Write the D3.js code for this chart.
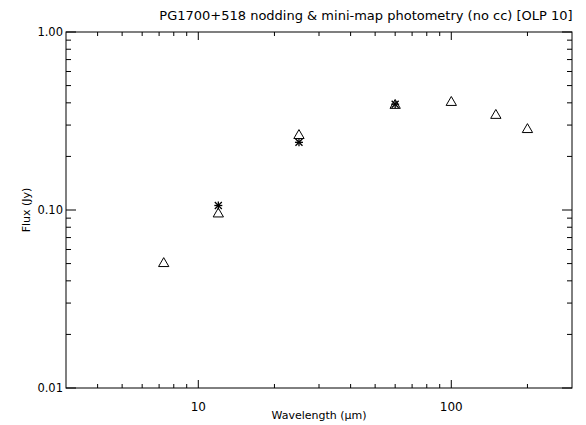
<!DOCTYPE html>
<html lang="en">
<head>
<meta charset="utf-8">
<title>PG1700+518</title>
<script src="https://d3js.org/d3.v7.min.js"></script>
<style>
body { margin: 0; background: #fff; }
text { font-family: "DejaVu Sans", sans-serif; fill: #000; }
</style>
</head>
<body>
<script>
/////////////////// Data //////////////
var triWave = [7.3, 12, 25, 60, 100, 150, 200];
var triFlux = [0.050, 0.095, 0.262, 0.387, 0.402, 0.340, 0.283];
var starWave = [12, 25, 60];
var starFlux = [0.106, 0.240, 0.393];
var xTicks = [10, 100];
var yTicks = [0.01, 0.1, 1];
var yTickLabels = ["0.01", "0.10", "1.00"];

/////////////////// Var //////////////
var width = 586, height = 425;
var mLeft = 66, mRight = 572, mTop = 32, mBottom = 388;

var svg = d3.select("body").append("svg")
  .attr("width", width).attr("height", height);

var x = d3.scaleLog().domain([3, 300]).range([mLeft, mRight]);
var y = d3.scaleLog().domain([0.01, 1]).range([mBottom, mTop]);

// minor ticks
var xMinor = [], yMinor = [];
[1, 10, 100].forEach(function(d) {
  for (var k = 2; k <= 9; k++) {
    var v = d * k;
    if (v > 3 && v < 300) xMinor.push(v);
  }
});
[0.01, 0.1].forEach(function(d) {
  for (var k = 2; k <= 9; k++) yMinor.push(d * k);
});

//============================== Frame
svg.append("rect")
  .attr("x", mLeft).attr("y", mTop)
  .attr("width", mRight - mLeft).attr("height", mBottom - mTop)
  .attr("fill", "none").attr("stroke", "#000").attr("stroke-width", 1);

var g = svg.append("g").attr("stroke", "#000").attr("stroke-width", 1);

function xTick(v, len) {
  g.append("line").attr("x1", x(v)).attr("x2", x(v)).attr("y1", mBottom).attr("y2", mBottom - len);
  g.append("line").attr("x1", x(v)).attr("x2", x(v)).attr("y1", mTop).attr("y2", mTop + len);
}
function yTick(v, len) {
  g.append("line").attr("y1", y(v)).attr("y2", y(v)).attr("x1", mLeft).attr("x2", mLeft + len);
  g.append("line").attr("y1", y(v)).attr("y2", y(v)).attr("x1", mRight).attr("x2", mRight - len);
}
xMinor.forEach(function(v) { xTick(v, 4); });
xTicks.forEach(function(v) { xTick(v, 8); });
yMinor.forEach(function(v) { yTick(v, 5); });
yTicks.forEach(function(v) { yTick(v, 10); });

//============================== Labels
svg.selectAll("text.xt").data(xTicks).enter().append("text")
  .attr("class", "xt")
  .attr("x", function(d) { return x(d); })
  .attr("y", 411)
  .attr("text-anchor", "middle")
  .attr("font-size", 12)
  .text(function(d) { return d; });

svg.selectAll("text.yt").data(yTicks).enter().append("text")
  .attr("class", "yt")
  .attr("x", mLeft - 3)
  .attr("y", function(d) { return y(d) + 4; })
  .attr("text-anchor", "end")
  .attr("font-size", 11.5)
  .text(function(d, i) { return yTickLabels[i]; });

svg.append("text")
  .attr("transform", "translate(30," + ((mTop + mBottom) / 2) + ") rotate(-90)")
  .attr("text-anchor", "middle").attr("font-size", 11)
  .text("Flux (Jy)");

svg.append("text")
  .attr("x", (mLeft + mRight) / 2).attr("y", 419)
  .attr("text-anchor", "middle").attr("font-size", 11)
  .text("Wavelength (\u03bcm)");

svg.append("text")
  .attr("x", 366).attr("y", 20)
  .attr("text-anchor", "middle").attr("font-size", 13)
  .text("PG1700+518 nodding & mini-map photometry (no cc) [OLP 10]");

//============================== Markers
var tri = d3.symbol().type(d3.symbolTriangle).size(46);
svg.selectAll("path.tri").data(triWave).enter().append("path")
  .attr("class", "tri")
  .attr("d", tri)
  .attr("transform", function(d, i) { return "translate(" + x(d) + "," + y(triFlux[i]) + ")"; })
  .attr("fill", "none").attr("stroke", "#000").attr("stroke-width", 1);

var star = svg.selectAll("g.star").data(starWave).enter().append("g")
  .attr("class", "star")
  .attr("transform", function(d, i) { return "translate(" + x(d) + "," + y(starFlux[i]) + ")"; })
  .attr("stroke", "#000").attr("stroke-width", 1.3);
star.append("line").attr("x1", -4).attr("x2", 4).attr("y1", 0).attr("y2", 0);
star.append("line").attr("x1", 0).attr("x2", 0).attr("y1", -4).attr("y2", 4);
star.append("line").attr("x1", -3.5).attr("x2", 3.5).attr("y1", -3.5).attr("y2", 3.5);
star.append("line").attr("x1", -3.5).attr("x2", 3.5).attr("y1", 3.5).attr("y2", -3.5);
</script>
</body>
</html>
